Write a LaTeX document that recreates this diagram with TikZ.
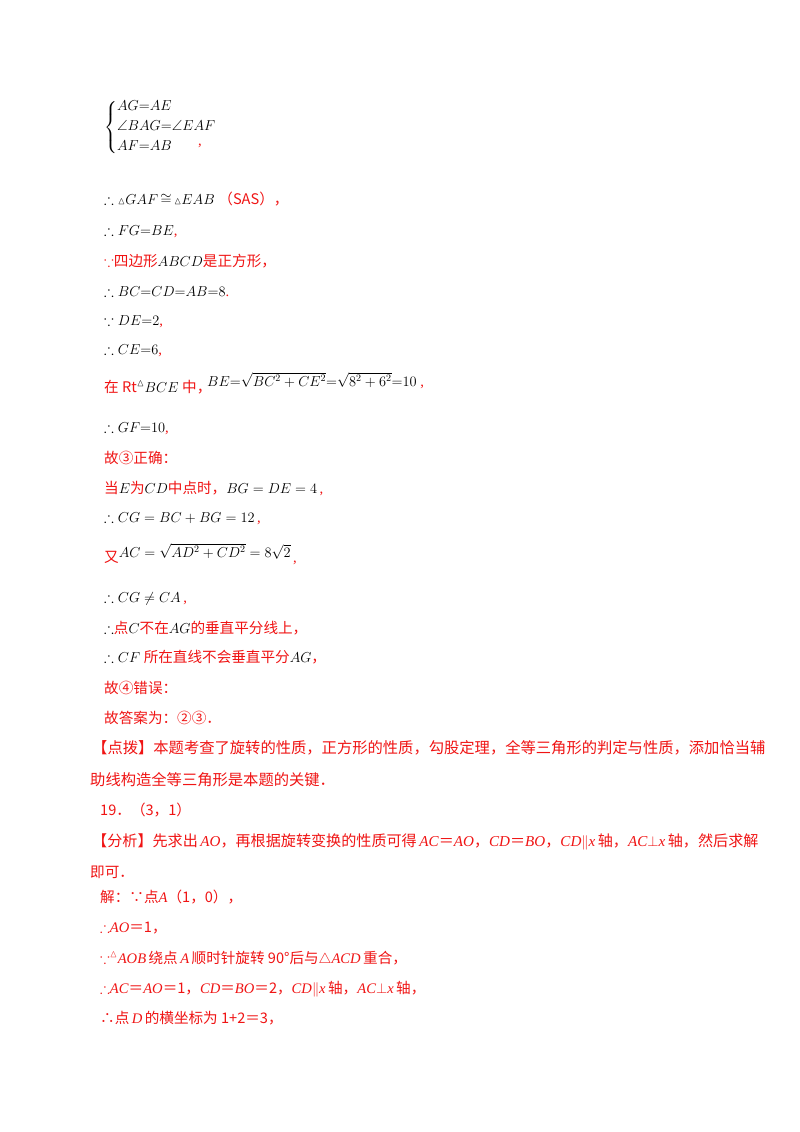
\documentclass[tikz,border=0pt]{standalone}
\usepackage{amsmath,amssymb}
\usepackage{fontspec}
\setmainfont{Liberation Serif}
\newfontfamily\cjk{Noto Sans CJK SC}
\newcommand{\zh}[1]{{\cjk #1}}
\definecolor{rd}{RGB}{240,20,20}
\tikzset{ln/.style={anchor=base west,inner sep=0pt,font=\fontsize{14.6}{17}\selectfont},
 rl/.style={ln,text=rd}}
\begin{document}
\begin{tikzpicture}[x=1pt,y=-1pt]
\useasboundingbox[fill=white] (0,0) rectangle (800,1132);
\node[ln] (l1) at (104,131) {$\left\{\begin{array}{@{}l}AG{=}AE\\[3pt] \angle BAG{=}\angle EAF\\[3pt] AF{=}AB\end{array}\right.$};
\node[rl] (c1) at (198,145) {,};
\node[ln] (l2) at (104,204) {$\therefore{\scriptstyle\vartriangle}GAF\,{\cong}\,{\scriptstyle\vartriangle}EAB$\ \textcolor{rd}{\zh{（SAS），}}};
\node[ln] (l3) at (104,235) {$\therefore FG{=}BE$\textcolor{rd}{,}};
\node[rl] (l4) at (104,266) {$\because$\zh{四边形}\textcolor{black}{$ABCD$}\zh{是正方形，}};
\node[ln] (l5) at (104,296) {$\therefore BC{=}CD{=}AB{=}8$\textcolor{rd}{.}};
\node[ln] (l6) at (104,325) {$\because DE{=}2$\textcolor{rd}{,}};
\node[ln] (l7) at (104,354) {$\therefore CE{=}6$\textcolor{rd}{,}};
\node[rl] (l8) at (104,392) {\zh{在 Rt}\textcolor{black}{$^{\vartriangle}BCE$} \zh{中，}};
\node[ln] (l8b) at (207,386) {$BE{=}\sqrt{BC^2+CE^2}{=}\sqrt{8^2+6^2}{=}10$\textcolor{rd}{\ ,}};
\node[ln] (l9) at (104,432) {$\therefore GF{=}10$\textcolor{rd}{,}};
\node[rl] (l10) at (104,463) {\zh{故③正确：}};
\node[rl] (l11) at (104,493) {\zh{当}\textcolor{black}{$E$}\zh{为}\textcolor{black}{$CD$}\zh{中点时，}\textcolor{black}{$BG=DE=4$}\,,};
\node[ln] (l12) at (104,522) {$\therefore CG=BC+BG=12$\textcolor{rd}{\,,}};
\node[rl] (l13) at (104,562) {\zh{又}\textcolor{black}{\raisebox{5pt}{$AC=\sqrt{AD^2+CD^2}=8\sqrt{2}$}}\,,};
\node[ln] (l14) at (104,602) {$\therefore CG\neq CA$\textcolor{rd}{\,,}};
\node[rl] (l15) at (104,633) {\textcolor{black}{$\therefore$}\zh{点}\textcolor{black}{$C$}\zh{不在}\textcolor{black}{$AG$}\zh{的垂直平分线上，}};
\node[rl] (l16) at (104,662) {\textcolor{black}{$\therefore CF$}\ \zh{所在直线不会垂直平分}\textcolor{black}{$AG$}\zh{，}};
\node[rl] (l17) at (104,693) {\zh{故④错误：}};
\node[rl] (l18) at (104,723) {\zh{故答案为：②③．}};
\node[rl,font=\fontsize{15.3}{17}\selectfont] (l19) at (92,753) {\zh{【点拨】本题考查了旋转的性质，正方形的性质，勾股定理，全等三角形的判定与性质，添加恰当辅}};
\node[rl,font=\fontsize{15.3}{17}\selectfont] (l20) at (90,785) {\zh{助线构造全等三角形是本题的关键．}};
\node[rl] (l21) at (100,815) {\zh{19．（3，1）}};
\node[rl,font=\fontsize{15.1}{17}\selectfont] (l22) at (92,846) {\zh{【分析】先求出}\,\textit{AO}\zh{，再根据旋转变换的性质可得}\,\textit{AC}\zh{＝}\textit{AO}\zh{，}\textit{CD}\zh{＝}\textit{BO}\zh{，}\textit{CD}$\|$\textit{x}\,\zh{轴，}\textit{AC}$\perp$\textit{x}\,\zh{轴，然后求解}};
\node[rl] (l23) at (90,877) {\zh{即可．}};
\node[rl] (l24) at (100,902) {\zh{解：∵点}\textit{A}\zh{（1，0），}};
\node[rl] (l25) at (100,932) {$\therefore$\textit{AO}\zh{＝1，}};
\node[rl] (l26) at (100,963) {$\because^{\vartriangle}$\textit{AOB}\,\zh{绕点}\,\textit{A}\,\zh{顺时针旋转 90°后与}$\triangle$\textit{ACD}\,\zh{重合，}};
\node[rl] (l27) at (100,993) {$\therefore$\textit{AC}\zh{＝}\textit{AO}\zh{＝1，}\textit{CD}\zh{＝}\textit{BO}\zh{＝2，}\textit{CD}$\|$\textit{x}\,\zh{轴，}\textit{AC}$\perp$\textit{x}\,\zh{轴，}};
\node[rl] (l28) at (100,1023) {\zh{∴点}\,\textit{D}\,\zh{的横坐标为 1+2＝3，}};
\end{tikzpicture}
\end{document}
